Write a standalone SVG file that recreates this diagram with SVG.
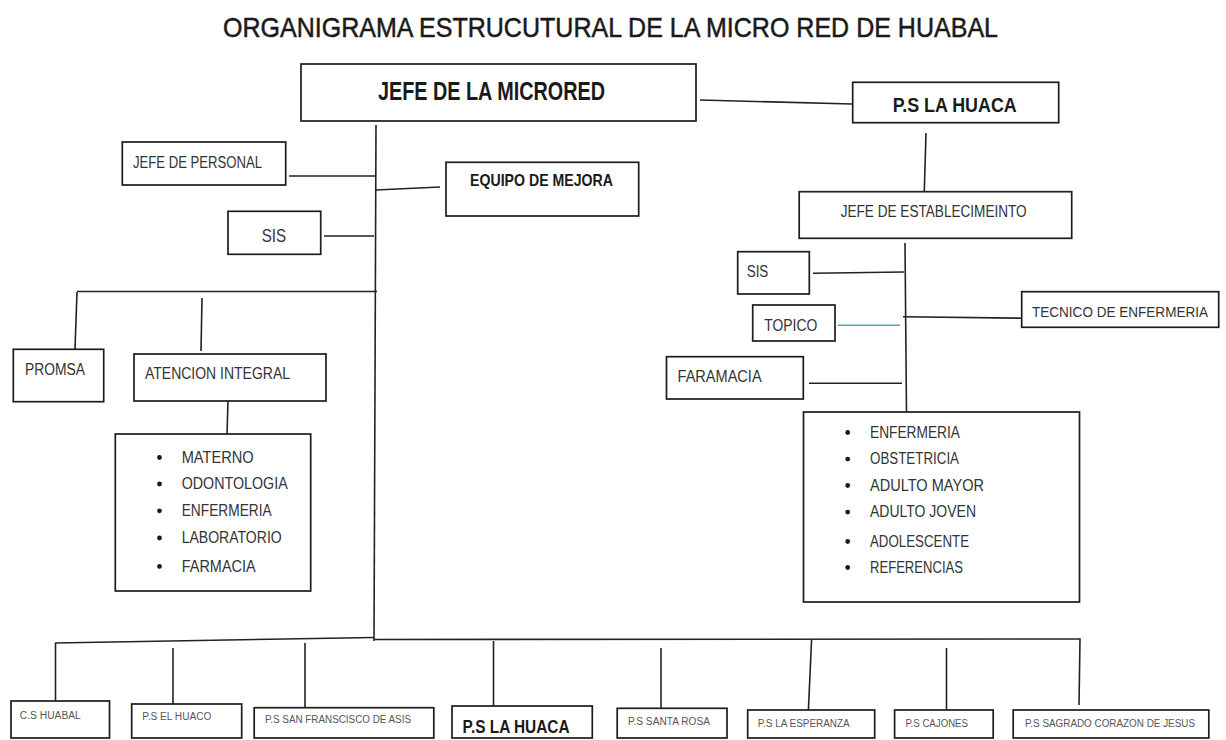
<svg xmlns="http://www.w3.org/2000/svg" width="1226" height="740" viewBox="0 0 1226 740">
<style>
.box{fill:#fff;stroke:#1c1c1c;stroke-width:1.7}
.ln{stroke:#222;stroke-width:1.6;fill:none}
.blue{stroke:#5b9bd5;stroke-width:1.6;fill:none}
text{font-family:"Liberation Sans",Arial,sans-serif;fill:#333}
.b{font-weight:bold;fill:#1a1a1a}
.m{font-size:16px}
.s{font-size:10px;fill:#555}
.title{font-size:28px;fill:#1a1a1a;stroke:#1a1a1a;stroke-width:0.5}
.bul{fill:#1a1a1a}
</style>
<rect width="1226" height="740" fill="#fff"/>
<text class="title" x="223" y="37" textLength="775" lengthAdjust="spacingAndGlyphs">ORGANIGRAMA ESTRUCUTURAL DE LA MICRO RED DE HUABAL</text>

<g id="connectors">
  <path class="ln" d="M376 125 L374 641"/>
  <path class="ln" d="M700 100 L852 104"/>
  <path class="ln" d="M289 176 L376 176"/>
  <path class="ln" d="M376 190 L440 187"/>
  <path class="ln" d="M324 236 L374 236"/>
  <path class="ln" d="M77 291.5 L377 291.5"/>
  <path class="ln" d="M77 292 L75 349"/>
  <path class="ln" d="M202 298 L201 351"/>
  <path class="ln" d="M228 401 L227 435"/>
  <path class="ln" d="M55 643 L374 637.5"/>
  <path class="ln" d="M374 639.5 L1080 639 L1079 705"/>
  <path class="ln" d="M55.5 643 L55.5 701"/>
  <path class="ln" d="M173 648 L173 704"/>
  <path class="ln" d="M305 643 L305 708"/>
  <path class="ln" d="M493.5 641 L493.5 706"/>
  <path class="ln" d="M661 648 L661 708"/>
  <path class="ln" d="M811.6 639 L808.4 710"/>
  <path class="ln" d="M946.5 648 L946.5 710"/>
  <path class="ln" d="M926 133 L924.3 191"/>
  <path class="ln" d="M905 243 L906.5 412"/>
  <path class="ln" d="M813 273.3 L904 272"/>
  <path class="blue" d="M838 325.3 L900 325.3"/>
  <path class="ln" d="M903 316.7 L1028 318.3"/>
  <path class="ln" d="M809 383.3 L902 383.3"/>
</g>

<g id="jefe-microred">
  <rect class="box" x="301" y="64" width="395" height="57"/>
  <text class="b" x="378" y="100" font-size="25" textLength="227" lengthAdjust="spacingAndGlyphs">JEFE DE LA MICRORED</text>
</g>
<g id="ps-la-huaca-top">
  <rect class="box" x="852.7" y="82.3" width="206" height="40.4"/>
  <text class="b" x="892.7" y="112.3" font-size="21" textLength="124" lengthAdjust="spacingAndGlyphs">P.S LA HUACA</text>
</g>
<g id="jefe-personal">
  <rect class="box" x="122.3" y="142" width="163.4" height="43"/>
  <text x="133" y="168" font-size="17" textLength="129" lengthAdjust="spacingAndGlyphs">JEFE DE PERSONAL</text>
</g>
<g id="equipo-mejora">
  <rect class="box" x="446" y="162.3" width="192.7" height="53.7"/>
  <text class="b" x="470" y="186" font-size="16.5" textLength="143" lengthAdjust="spacingAndGlyphs">EQUIPO DE MEJORA</text>
</g>
<g id="sis-left">
  <rect class="box" x="228" y="211.3" width="92.7" height="43"/>
  <text x="261.7" y="241.7" font-size="19" textLength="24.5" lengthAdjust="spacingAndGlyphs">SIS</text>
</g>
<g id="promsa">
  <rect class="box" x="13.3" y="349.3" width="90.4" height="52.4"/>
  <text class="m" x="25" y="375" textLength="60" lengthAdjust="spacingAndGlyphs">PROMSA</text>
</g>
<g id="atencion-integral">
  <rect class="box" x="134" y="354" width="192" height="47"/>
  <text class="m" x="145" y="379.3" textLength="145" lengthAdjust="spacingAndGlyphs">ATENCION INTEGRAL</text>
</g>
<g id="lista-atencion">
  <rect class="box" x="115.3" y="434" width="195.4" height="157"/>
  <circle class="bul" cx="159.5" cy="457.5" r="2.4"/>
  <circle class="bul" cx="159.5" cy="484" r="2.4"/>
  <circle class="bul" cx="159.5" cy="510.8" r="2.4"/>
  <circle class="bul" cx="159.5" cy="538" r="2.4"/>
  <circle class="bul" cx="159.5" cy="566.4" r="2.4"/>
  <text class="m" x="181.7" y="462.7" textLength="72" lengthAdjust="spacingAndGlyphs">MATERNO</text>
  <text class="m" x="181.7" y="489.3" textLength="106" lengthAdjust="spacingAndGlyphs">ODONTOLOGIA</text>
  <text class="m" x="181.7" y="516" textLength="90" lengthAdjust="spacingAndGlyphs">ENFERMERIA</text>
  <text class="m" x="181.7" y="543.3" textLength="100" lengthAdjust="spacingAndGlyphs">LABORATORIO</text>
  <text class="m" x="181.7" y="571.7" textLength="74" lengthAdjust="spacingAndGlyphs">FARMACIA</text>
</g>

<g id="jefe-establecimiento">
  <rect class="box" x="799.2" y="191.7" width="272.5" height="46.6"/>
  <text class="m" x="840.7" y="216.7" textLength="186" lengthAdjust="spacingAndGlyphs">JEFE DE ESTABLECIMEINTO</text>
</g>
<g id="sis-right">
  <rect class="box" x="737.7" y="251.7" width="71.6" height="42.3"/>
  <text class="m" x="746.7" y="276.7" textLength="21.6" lengthAdjust="spacingAndGlyphs">SIS</text>
</g>
<g id="topico">
  <rect class="box" x="752.7" y="305" width="82.3" height="36"/>
  <text class="m" x="764.3" y="330.7" textLength="53" lengthAdjust="spacingAndGlyphs">TOPICO</text>
</g>
<g id="tecnico-enfermeria">
  <rect class="box" x="1021.7" y="291.7" width="197" height="35.6"/>
  <text x="1032" y="316.7" font-size="14" textLength="176" lengthAdjust="spacingAndGlyphs">TECNICO DE ENFERMERIA</text>
</g>
<g id="faramacia">
  <rect class="box" x="666.5" y="356.7" width="136.8" height="42.3"/>
  <text class="m" x="677.6" y="381.5" textLength="84" lengthAdjust="spacingAndGlyphs">FARAMACIA</text>
</g>
<g id="lista-huaca">
  <rect class="box" x="803.5" y="412" width="276" height="190"/>
  <circle class="bul" cx="847.7" cy="432.5" r="2.4"/>
  <circle class="bul" cx="847.7" cy="459.1" r="2.4"/>
  <circle class="bul" cx="847.7" cy="485.5" r="2.4"/>
  <circle class="bul" cx="847.7" cy="512.1" r="2.4"/>
  <circle class="bul" cx="847.7" cy="541.5" r="2.4"/>
  <circle class="bul" cx="847.7" cy="567.5" r="2.4"/>
  <text class="m" x="870" y="437.7" textLength="90" lengthAdjust="spacingAndGlyphs">ENFERMERIA</text>
  <text class="m" x="870" y="464.3" textLength="89" lengthAdjust="spacingAndGlyphs">OBSTETRICIA</text>
  <text class="m" x="870" y="490.7" textLength="114" lengthAdjust="spacingAndGlyphs">ADULTO MAYOR</text>
  <text class="m" x="870" y="517.3" textLength="106" lengthAdjust="spacingAndGlyphs">ADULTO JOVEN</text>
  <text class="m" x="870" y="546.7" textLength="99" lengthAdjust="spacingAndGlyphs">ADOLESCENTE</text>
  <text class="m" x="870" y="572.7" textLength="93" lengthAdjust="spacingAndGlyphs">REFERENCIAS</text>
</g>

<g id="cs-huabal">
  <rect class="box" x="11" y="701" width="98.5" height="37"/>
  <text class="s" x="19.8" y="719" textLength="61" lengthAdjust="spacingAndGlyphs">C.S HUABAL</text>
</g>
<g id="ps-el-huaco">
  <rect class="box" x="131.7" y="704" width="110" height="34"/>
  <text class="s" x="142.3" y="720" textLength="69" lengthAdjust="spacingAndGlyphs">P.S EL HUACO</text>
</g>
<g id="ps-san-francisco">
  <rect class="box" x="254.2" y="707.7" width="179.6" height="30.3"/>
  <text class="s" x="265" y="723.3" textLength="146" lengthAdjust="spacingAndGlyphs">P.S SAN FRANSCISCO DE ASIS</text>
</g>
<g id="ps-la-huaca-bottom">
  <rect class="box" x="452" y="706" width="140.3" height="32"/>
  <text class="b" x="462.6" y="733.3" font-size="18" textLength="107" lengthAdjust="spacingAndGlyphs">P.S LA HUACA</text>
</g>
<g id="ps-santa-rosa">
  <rect class="box" x="617.2" y="708.3" width="109.8" height="29.7"/>
  <text class="s" x="628" y="725" textLength="82" lengthAdjust="spacingAndGlyphs">P.S SANTA ROSA</text>
</g>
<g id="ps-la-esperanza">
  <rect class="box" x="747.7" y="710" width="127" height="28"/>
  <text class="s" x="757.7" y="727.3" textLength="92" lengthAdjust="spacingAndGlyphs">P.S LA ESPERANZA</text>
</g>
<g id="ps-cajones">
  <rect class="box" x="894.6" y="710" width="98.6" height="28"/>
  <text class="s" x="905.4" y="727" textLength="62.6" lengthAdjust="spacingAndGlyphs">P.S CAJONES</text>
</g>
<g id="ps-sagrado-corazon">
  <rect class="box" x="1013.2" y="710" width="195.6" height="28"/>
  <text class="s" x="1025" y="727" textLength="170" lengthAdjust="spacingAndGlyphs">P.S SAGRADO CORAZON DE JESUS</text>
</g>
</svg>
